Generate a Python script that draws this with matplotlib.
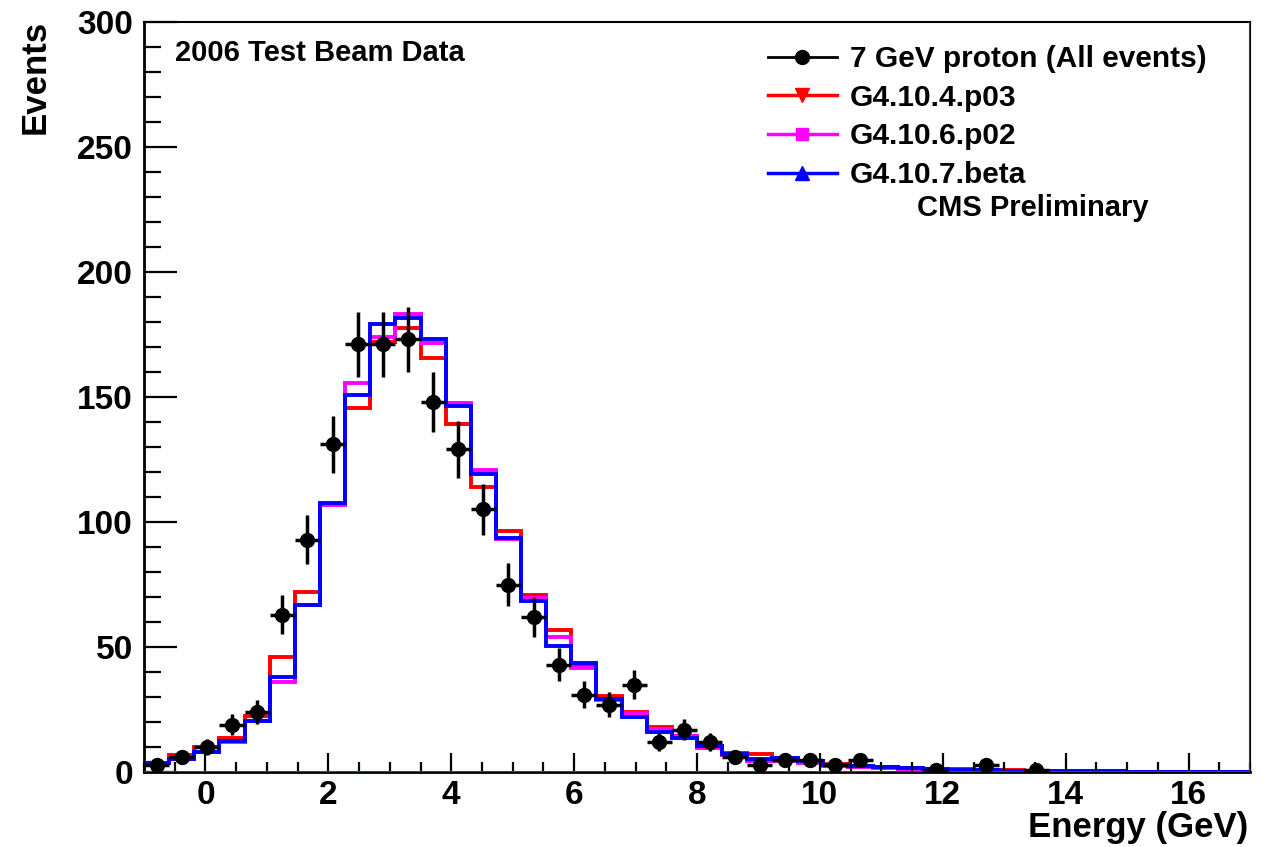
import numpy as np
import matplotlib
matplotlib.use('Agg')
import matplotlib.pyplot as plt
from matplotlib.lines import Line2D
from matplotlib.ticker import MultipleLocator

plt.rcParams['font.family'] = ['Liberation Sans', 'DejaVu Sans']
plt.rcParams['font.weight'] = 'bold'

# 44 bins from -1 to 17 GeV
nbins = 44
xmin, xmax = -1., 17.
edges = np.linspace(xmin, xmax, nbins + 1)
centers = 0.5 * (edges[1:] + edges[:-1])
halfwidth = 0.5 * (edges[1] - edges[0])

# 7 GeV proton test beam counts per bin
data_counts = [3, 6, 10, 19, 24, 63, 93, 131, 171, 171, 173, 148, 129, 105, 75, 62,
               43, 31, 27, 35, 12, 17, 12, 6, 3, 5, 5, 3, 5, 0, 0, 1, 0, 3, 0, 1,
               0, 0, 0, 0, 0, 0, 0, 0]

# Geant4 predictions (normalised)
g4_104 = [3.5, 6.8, 10.1, 13.5, 22.4, 45.9, 72.0, 107.0, 145.7, 172.0, 177.7, 165.5,
          139.3, 114.0, 96.5, 70.8, 57.0, 42.5, 30.5, 24.0, 18.1, 14.4, 10.4, 7.7,
          7.2, 5.5, 4.5, 3.2, 2.6, 2.0, 1.6, 1.3, 1.1, 0.9, 0.7, 0.5, 0.4, 0.3,
          0.3, 0.2, 0.2, 0.1, 0.1, 0.1]
g4_106 = [3.5, 5.2, 8.0, 12.0, 20.3, 36.0, 67.0, 106.8, 155.5, 174.0, 183.0, 171.5,
          147.5, 120.8, 93.3, 69.6, 53.9, 41.5, 29.0, 23.5, 17.2, 14.4, 9.5, 7.0,
          4.6, 4.4, 3.6, 2.5, 2.0, 1.7, 1.3, 1.0, 0.8, 0.7, 0.5, 0.4, 0.3, 0.3,
          0.2, 0.2, 0.1, 0.1, 0.1, 0.1]
g4_107 = [3.7, 5.3, 8.1, 12.3, 20.5, 37.9, 67.0, 107.7, 150.8, 179.0, 181.5, 173.2,
          146.4, 119.3, 93.7, 68.5, 50.4, 43.7, 29.2, 22.1, 16.1, 13.5, 10.4, 7.2,
          5.2, 5.8, 4.5, 2.8, 2.4, 1.9, 1.5, 1.1, 0.8, 0.8, 0.5, 0.5, 0.4, 0.3,
          0.3, 0.2, 0.2, 0.1, 0.1, 0.1]

labels = ['7 GeV proton (All events)', 'G4.10.4.p03', 'G4.10.6.p02', 'G4.10.7.beta']

fig = plt.figure(figsize=(12.8, 8.47), dpi=100)
ax = fig.add_axes([144/1280., 1-772/847., (1250-144)/1280., (772-22)/847.])

lw = 2.8
ax.stairs(g4_104, edges, color='red', lw=lw)
ax.stairs(g4_106, edges, color='magenta', lw=lw)
ax.stairs(g4_107, edges, color='blue', lw=lw)

counts = np.array(data_counts, dtype=float)
good = np.where(counts > 0)
ax.errorbar(centers[good], counts[good], yerr=np.sqrt(counts[good]),
            xerr=halfwidth, fmt='o', color='black', ms=10, elinewidth=2.5,
            capsize=0, zorder=5)

ax.axhline(0, color='red', lw=1.2, zorder=4)
ax.axvline(xmax, color='red', lw=1.2, zorder=4)

ax.set_xlim(xmin, xmax)
ax.set_ylim(0, 300)

ax.xaxis.set_major_locator(MultipleLocator(2))
ax.xaxis.set_minor_locator(MultipleLocator(0.5))
ax.yaxis.set_major_locator(MultipleLocator(50))
ax.yaxis.set_minor_locator(MultipleLocator(10))
ax.tick_params(axis='x', which='major', direction='in', length=14, width=1.6,
               labelsize=24, pad=6, top=False)
ax.tick_params(axis='x', which='minor', direction='in', length=7, width=1.6, top=False)
ax.tick_params(axis='y', which='major', direction='in', length=24, width=1.6,
               labelsize=24, pad=8, right=False)
ax.tick_params(axis='y', which='minor', direction='in', length=12, width=1.6, right=False)
for lab in ax.get_xticklabels() + ax.get_yticklabels():
    lab.set_fontweight('bold')
for s in ['left', 'bottom']:
    ax.spines[s].set_linewidth(2)
for s in ['top', 'right']:
    ax.spines[s].set_linewidth(1.5)

fig.text(35/1280., 1-20/847., 'Events', rotation=90, ha='center', va='top',
         fontsize=25, fontweight='bold')
fig.text(1248/1280., 1-837/847., 'Energy (GeV)', ha='right', va='baseline',
         fontsize=25, fontweight='bold')
fig.text(175/1280., 1-61/847., '2006 Test Beam Data', ha='left', va='baseline',
         fontsize=21, fontweight='bold')
fig.text(917/1280., 1-208/847., 'CMS Preliminary', ha='left', va='center',
         fontsize=21, fontweight='bold')

handles = [Line2D([], [], color='black', marker='o', ms=10, lw=2),
           Line2D([], [], color='red', marker='v', ms=10, lw=2.5),
           Line2D([], [], color='magenta', marker='s', ms=9, lw=2.5),
           Line2D([], [], color='blue', marker='^', ms=10, lw=2.5)]
leg = ax.legend(handles, labels, loc='upper left', bbox_to_anchor=(768/1280., 1-45/847.),
                bbox_transform=fig.transFigure, frameon=False, borderpad=0,
                borderaxespad=0, handlelength=2.3, handletextpad=0.45,
                labelspacing=0.36, prop={'size': 21.5, 'weight': 'bold'})

fig.savefig('out.png', dpi=100)
